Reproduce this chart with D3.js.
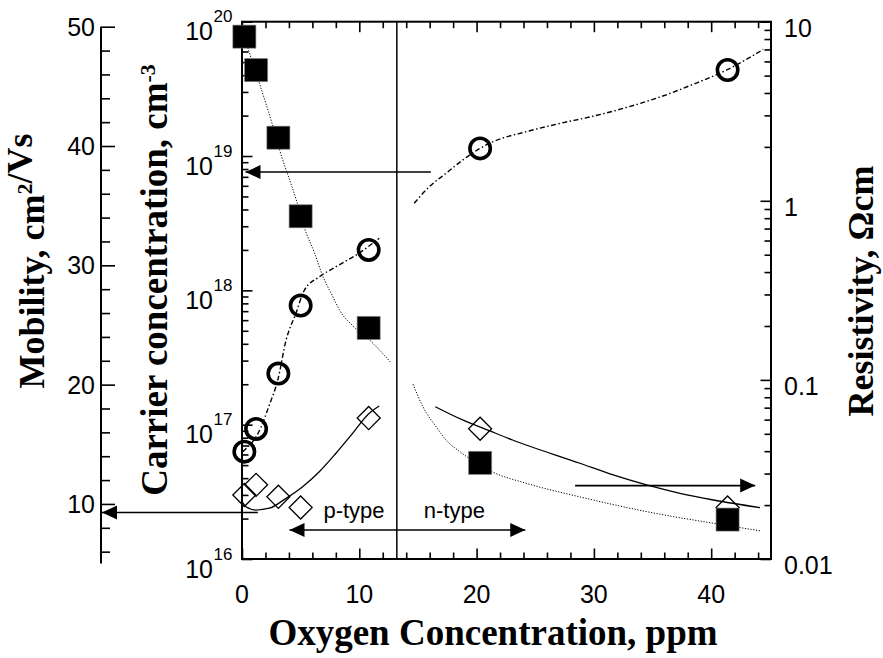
<!DOCTYPE html>
<html>
<head>
<meta charset="utf-8">
<script src="https://cdn.jsdelivr.net/npm/d3@7"></script>
<style>
  body { margin: 0; background: #fff; }
  svg { display: block; }
</style>
</head>
<body>
<div id="chart"></div>
<script>
// measured points, x = oxygen concentration (ppm)
const oxygenPpm   = [0.2, 1.2, 3.1, 5.0, 10.8, 20.3, 41.4];
const resistivity = [8.25, 5.37, 2.25, 0.82, 0.195, 0.0344, 0.0166];          // filled squares, Ωcm
const carrierConc = [6.3e16, 9.3e16, 2.4e17, 7.7e17, 2.0e18, 1.14e19, 4.37e19]; // open circles, cm-3
const mobility    = [10.75, 11.6, 10.6, 9.7, 17.2, 16.3, 9.7];                  // open diamonds, cm2/Vs

// guide curves (p-type side / n-type side)
const resFitPX = [0.2, 0.54, 1.45, 2.64, 3.21, 4.63, 5.34, 6.19, 6.85, 7.76, 8.32, 9.46, 10.88, 12.64];
const resFitPY = [8.2, 7.0, 4.6, 2.6, 1.92, 1.01, 0.70, 0.51, 0.385, 0.29, 0.245, 0.20, 0.167, 0.126];
const resFitNX = [14.58, 15.43, 16.56, 17.42, 18.61, 21.36, 24.29, 28.84, 35.6, 40.15, 44.16];
const resFitNY = [0.0946, 0.0707, 0.0546, 0.046, 0.0396, 0.0306, 0.0264, 0.0222, 0.0178, 0.01585, 0.01437];

const carFitPX = [0.06, 1.63, 2.33, 3.05, 3.76, 4.6, 5.31, 6.59, 8.01, 9.72, 11.7];
const carFitPY = [6.3e16, 9.6e16, 1.4e17, 2.15e17, 4.27e17, 6.75e17, 1.0e18, 1.26e18, 1.5e18, 1.83e18, 2.44e18];
const carFitNX = [14.68, 15.96, 17.39, 18.81, 20.29, 21.42, 24.27, 27.11, 29.95, 32.79, 35.63, 38.47, 41.32, 44.44];
const carFitNY = [4.45e18, 5.9e18, 7.43e18, 9.33e18, 1.14e19, 1.28e19, 1.52e19, 1.75e19, 1.98e19, 2.3e19, 2.75e19, 3.42e19, 4.37e19, 6.22e19];

const mobFitPX = [0, 0.34, 1.19, 2.32, 3.75, 5.17, 6.59, 8.01, 9.43, 10.85, 11.7];
const mobFitPY = [10.19, 9.77, 9.49, 9.64, 10.47, 11.45, 12.70, 14.25, 15.92, 17.60, 18.21];
const mobFitNX = [16.48, 18.81, 21.08, 23.07, 28.81, 31.65, 34.5, 37.34, 40.18, 44.16];
const mobFitNY = [18.15, 17.04, 16.14, 15.36, 13.41, 12.43, 11.59, 10.89, 10.33, 9.69];

// ticks
const oxygenTicks = [0, 10, 20, 30, 40];
const mobilityTicks = [10, 20, 30, 40, 50];
const carrierExponents = [16, 17, 18, 19, 20];
const resistivityTicks = [0.01, 0.1, 1, 10];
const resistivityLabels = ['0.01', '0.1', '1', '10'];

// annotations
const typeBoundary = 13.2;     // ppm
const carrierArrow = { from: 16.1, to: 0.3, level: 7.6e18 };
const mobilityArrow = { from: 1.35, level: 9.28 };
const typeArrow = { from: 4.05, to: 24.15, level: 7.82 };
const resistArrow = { from: 28.4, to: 43.75, level: 0.0257 };

const W = 883, H = 658;
const plotL = 242, plotR = 771, plotT = 21.7, plotB = 559;
const mobAxisX = 101;

const SANS = "'Liberation Sans', Arial, sans-serif";
const SERIF = "'Liberation Serif', 'Times New Roman', serif";

const svg = d3.select('#chart').append('svg').attr('width', W).attr('height', H);

const x = d3.scaleLinear().domain([0, 45.1]).range([plotL, plotR]);
const yCar = d3.scaleLog().domain([1e16, 1e20]).range([plotB, plotT]);
const yRes = d3.scaleLog().domain([0.01, 10]).range([plotB, plotT]);
const yMob = d3.scaleLinear().domain([5, 50]).range([563.6, 26.7]);

function logMinors(lo, hi) {
    const out = [];
    for (let e = lo; e < hi; e++) for (let k = 2; k <= 9; k++) out.push(k * Math.pow(10, e));
    return out;
}

function cleanAxis(g) {
    g.select('.domain').remove();
    g.selectAll('line').attr('stroke', '#000').attr('stroke-width', 1.6);
    g.selectAll('text').remove();
}

// ---- x ticks (inside, bottom and top)
const xMinor = d3.range(0, 45, 2).filter(v => v % 10 !== 0);
[[d3.axisBottom, plotB], [d3.axisTop, plotT]].forEach(([fn, yy]) => {
    svg.append('g').attr('transform', `translate(0,${yy})`)
        .call(fn(x).tickValues(oxygenTicks).tickSize(-10.5)).call(cleanAxis);
    svg.append('g').attr('transform', `translate(0,${yy})`)
        .call(fn(x).tickValues(xMinor).tickSize(-6.5)).call(cleanAxis);
});
svg.append('g').selectAll('text').data(oxygenTicks).join('text')
    .attr('x', d => x(d)).attr('y', 603)
    .attr('text-anchor', 'middle')
    .attr('font-family', SANS).attr('font-size', 25)
    .text(d => d);

// ---- carrier concentration axis (left frame)
svg.append('g').attr('transform', `translate(${plotL},0)`)
    .call(d3.axisLeft(yCar).tickValues(carrierExponents.map(e => Math.pow(10, e))).tickSize(-10.5)).call(cleanAxis);
svg.append('g').attr('transform', `translate(${plotL},0)`)
    .call(d3.axisLeft(yCar).tickValues(logMinors(16, 20)).tickSize(-6.5)).call(cleanAxis);
svg.append('g').selectAll('text').data(carrierExponents).join('text')
    .attr('x', 213).attr('y', e => yCar(Math.pow(10, e)) + 18.5)
    .attr('text-anchor', 'end')
    .attr('font-family', SANS).attr('font-size', 25)
    .text('10');
svg.append('g').selectAll('text').data(carrierExponents).join('text')
    .attr('x', 213.5).attr('y', e => yCar(Math.pow(10, e)) + 0.5)
    .attr('font-family', SANS).attr('font-size', 17)
    .text(e => e);

// ---- resistivity axis (right frame)
svg.append('g').attr('transform', `translate(${plotR},0)`)
    .call(d3.axisRight(yRes).tickValues(resistivityTicks).tickSize(-10.5)).call(cleanAxis);
svg.append('g').attr('transform', `translate(${plotR},0)`)
    .call(d3.axisRight(yRes).tickValues(logMinors(-2, 1)).tickSize(-6.5)).call(cleanAxis);
svg.append('g').selectAll('text').data(resistivityTicks).join('text')
    .attr('x', 784).attr('y', d => yRes(d) + 15)
    .attr('font-family', SANS).attr('font-size', 25)
    .text((d, i) => resistivityLabels[i]);

// ---- mobility axis (separate, far left)
svg.append('g').attr('transform', `translate(${mobAxisX},0)`)
    .call(d3.axisLeft(yMob).tickValues(mobilityTicks).tickSize(-14)).call(cleanAxis);
svg.append('g').attr('transform', `translate(${mobAxisX},0)`)
    .call(d3.axisLeft(yMob).tickValues(d3.range(6, 50, 2).filter(v => v % 10 !== 0)).tickSize(-9)).call(cleanAxis);
svg.append('line').attr('x1', mobAxisX).attr('x2', mobAxisX)
    .attr('y1', yMob(50)).attr('y2', yMob(5))
    .attr('stroke', '#000').attr('stroke-width', 2);
svg.append('g').selectAll('text').data(mobilityTicks).join('text')
    .attr('x', 95).attr('y', d => yMob(d)).attr('dy', '0.36em')
    .attr('text-anchor', 'end')
    .attr('font-family', SANS).attr('font-size', 25)
    .text(d => d);

// ---- frame + p/n boundary
svg.append('rect').attr('x', plotL).attr('y', plotT)
    .attr('width', plotR - plotL).attr('height', plotB - plotT)
    .attr('fill', 'none').attr('stroke', '#000').attr('stroke-width', 2);
svg.append('line').attr('x1', x(typeBoundary)).attr('x2', x(typeBoundary))
    .attr('y1', plotT).attr('y2', plotB)
    .attr('stroke', '#000').attr('stroke-width', 1.5);

// ---- guide curves
const zip = (xs, ys) => xs.map((v, i) => [v, ys[i]]);
function curve(xs, ys, yScale, dash, width) {
    const line = d3.line().x(d => x(d[0])).y(d => yScale(d[1])).curve(d3.curveMonotoneX);
    svg.append('path').attr('d', line(zip(xs, ys)))
        .attr('fill', 'none').attr('stroke', '#000')
        .attr('stroke-width', width).attr('stroke-dasharray', dash);
}
curve(resFitPX, resFitPY, yRes, '1.2,1.6', 1);
curve(resFitNX, resFitNY, yRes, '1.2,1.6', 1);
curve(carFitPX, carFitPY, yCar, '5,2.5,1.5,2.5', 1.4);
curve(carFitNX, carFitNY, yCar, '5,2.5,1.5,2.5', 1.4);
curve(mobFitPX, mobFitPY, yMob, null, 1.3);
curve(mobFitNX, mobFitNY, yMob, null, 1.3);

// ---- arrows
function arrow(x1, x2, yy, heads) {
    svg.append('line').attr('x1', x1).attr('x2', x2).attr('y1', yy).attr('y2', yy)
        .attr('stroke', '#000').attr('stroke-width', 1.6);
    heads.forEach(([tip, dir]) => {
        svg.append('path')
            .attr('d', `M${tip},${yy} L${tip - dir * 15},${yy - 7} L${tip - dir * 15},${yy + 7} Z`)
            .attr('fill', '#000');
    });
}
arrow(x(carrierArrow.from), x(carrierArrow.to), yCar(carrierArrow.level), [[x(carrierArrow.to), -1]]);
arrow(x(mobilityArrow.from), mobAxisX + 1, yMob(mobilityArrow.level), [[mobAxisX + 1, -1]]);
arrow(x(typeArrow.from), x(typeArrow.to), yMob(typeArrow.level), [[x(typeArrow.from), -1], [x(typeArrow.to), 1]]);
arrow(x(resistArrow.from), x(resistArrow.to), yRes(resistArrow.level), [[x(resistArrow.to), 1]]);

svg.append('text').attr('x', x(9.55)).attr('y', 518)
    .attr('text-anchor', 'middle').attr('font-family', SANS).attr('font-size', 22)
    .text('p-type');
svg.append('text').attr('x', x(18.1)).attr('y', 518)
    .attr('text-anchor', 'middle').attr('font-family', SANS).attr('font-size', 22)
    .text('n-type');

// ---- markers
const pts = oxygenPpm.map((v, i) => ({ x: v, res: resistivity[i], car: carrierConc[i], mob: mobility[i] }));

svg.append('g').selectAll('path').data(pts).join('path')
    .attr('d', d3.symbol(d3.symbolSquare, 265))
    .attr('transform', d => `translate(${x(d.x)},${yMob(d.mob)}) rotate(45)`)
    .attr('fill', 'none').attr('stroke', '#000').attr('stroke-width', 1.3);

svg.append('g').selectAll('circle').data(pts).join('circle')
    .attr('cx', d => x(d.x)).attr('cy', d => yCar(d.car)).attr('r', 10.2)
    .attr('fill', 'none').attr('stroke', '#000').attr('stroke-width', 3.6);

svg.append('g').selectAll('path').data(pts).join('path')
    .attr('d', d3.symbol(d3.symbolSquare, 529))
    .attr('transform', d => `translate(${x(d.x)},${yRes(d.res)})`)
    .attr('fill', '#000').attr('stroke', '#777').attr('stroke-width', 0.6);

// ---- axis titles
function title(tx, ty, rot, size, parts) {
    const t = svg.append('text')
        .attr('transform', `translate(${tx},${ty}) rotate(${rot})`)
        .attr('text-anchor', 'middle')
        .attr('font-family', SERIF).attr('font-weight', 'bold').attr('font-size', size);
    parts.forEach(([s, sup]) => {
        if (sup) {
            t.append('tspan').attr('dy', -12).attr('font-size', 22).text(s);
            t.append('tspan').attr('dy', 12).text('');
        } else {
            t.append('tspan').text(s);
        }
    });
}
title(44, 261, -90, 36, [['Mobility, cm'], ['2', true], ['/Vs']]);
title(167, 280, -90, 37, [['Carrier concentration, cm'], ['-3', true]]);
title(873, 291, -90, 36, [['Resistivity, \u03A9cm']]);
title(493, 645, 0, 37, [['Oxygen Concentration, ppm']]);
</script>
</body>
</html>
